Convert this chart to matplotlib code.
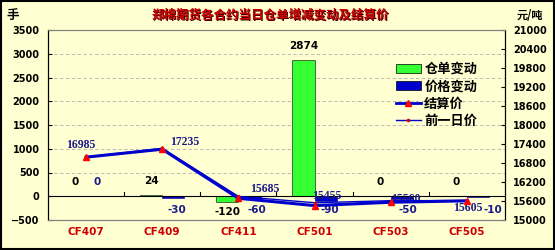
import numpy as np
import matplotlib
matplotlib.use("Agg")
import matplotlib.pyplot as plt
from matplotlib.patches import Rectangle, Patch
from matplotlib.lines import Line2D

plt.rcParams['font.family'] = ['Noto Sans CJK SC', 'DejaVu Sans']

# 数据
contracts = ['CF407', 'CF409', 'CF411', 'CF501', 'CF503', 'CF505']
warehouse_chg = [0, 24, -120, 2874, 0, 0]        # 仓单变动 (手)
price_chg = [0, -30, -60, -90, -50, -10]         # 价格变动
settle = [16985, 17235, 15685, 15455, 15560, 15605]  # 结算价
prev_price = [s - c for s, c in zip(settle, price_chg)]  # 前一日价

left_ticks = [-500, 0, 500, 1000, 1500, 2000, 2500, 3000, 3500]
right_ticks = [15000, 15600, 16200, 16800, 17400, 18000, 18600,
               19200, 19800, 20400, 21000]

# 标签偏移 (points)
settle_off = [(-4, 9), (16, 5), (19, 7), (9, 7), (11, 2), (1, -5)]
price_lbl_dx = [0, 0.05, 0.1, 0.05, 0.08, 0.2]

BG = '#FFFFD2'
GREEN = '#33FF33'
BLUE = '#0000CC'
NAVY = '#1A1A8C'
RED = '#CC0000'

fig = plt.figure(figsize=(5.55, 2.5), dpi=100)
fig.patch.set_facecolor(BG)
ax = fig.add_axes([48 / 555, 30 / 250, 457 / 555, 190 / 250])
ax.set_facecolor(BG)
ax2 = ax.twinx()

x = np.arange(len(contracts))
w = 0.29
ax.bar(x - w / 2, warehouse_chg, w, color=GREEN, edgecolor='black', linewidth=0.4, zorder=3)
ax.bar(x + w / 2, price_chg, w, color=BLUE, edgecolor='#000080', linewidth=0.4, zorder=3)
ax.axhline(0, color='black', linewidth=0.8, zorder=4)

ax.set_xlim(-0.5, len(contracts) - 0.5)
ax.set_ylim(-500, 3500)
ax.set_yticks(left_ticks)
ax.grid(axis='y', color='#B0B0B0', linestyle=(0, (4, 3)), linewidth=0.6)
ax.set_axisbelow(True)
ax.set_xticks([])
for b in np.arange(0.5, len(contracts) - 0.5):
    ax.plot([b, b], [0, 90], color='black', linewidth=0.8, zorder=4)

for xi, v in zip(x, warehouse_chg):
    off = 10 if v >= 0 else -11
    ax.annotate(str(v), (xi - w / 2, v if v >= 0 else 0), xytext=(0, off),
                textcoords='offset points', ha='center', va='center',
                fontsize=7.5, fontweight='bold', color='black', family='DejaVu Sans')
for xi, v, dx in zip(x, price_chg, price_lbl_dx):
    off = 10 if v >= 0 else -10
    ax.annotate(str(v), (xi + w / 2 + dx, v if v >= 0 else 0), xytext=(0, off),
                textcoords='offset points', ha='center', va='center',
                fontsize=7.5, fontweight='bold', color=NAVY, family='DejaVu Sans')

ax2.plot(x, prev_price, color=BLUE, linewidth=1.0, marker='.', markersize=3,
         markerfacecolor=RED, markeredgecolor=RED, zorder=5)
ax2.plot(x, settle, color=BLUE, linewidth=2.2, marker='^', markersize=5,
         markerfacecolor='red', markeredgecolor='red', zorder=6)
for xi, v, off in zip(x, settle, settle_off):
    ax2.annotate(str(v), (xi, v), xytext=off, textcoords='offset points',
                 ha='center', va='center', fontsize=8.5, color=NAVY,
                 fontweight='bold', family='Liberation Serif')
ax2.set_ylim(15000, 21000)
ax2.set_yticks(right_ticks)

for a in (ax, ax2):
    a.tick_params(axis='y', direction='in', length=3, labelsize=7, pad=6)
    for s in ('top', 'bottom'):
        a.spines[s].set_color('#808080')
    a.spines['left'].set_color('black')
    a.spines['right'].set_color('black')
for lab in ax.get_yticklabels() + ax2.get_yticklabels():
    lab.set_fontweight('bold')
    lab.set_family('DejaVu Sans')

for xi, name in zip(x, contracts):
    ax.text(xi, -750, name, ha='center', va='center', fontsize=7.5,
            fontweight='bold', color=RED, family='DejaVu Sans')

title = '郑棉期货各合约当日仓单增减变动及结算价'
fig.text(0.487 + 0.002, 0.938 - 0.004, title, ha='center', va='center',
         fontsize=9, fontweight='bold', color='#400000')
fig.text(0.487, 0.938, title, ha='center', va='center',
         fontsize=9, fontweight='bold', color=RED)
fig.text(13 / 555, 0.938, '手', ha='center', va='center', fontsize=9, fontweight='bold')
fig.text(530 / 555, 0.938, '元/吨', ha='center', va='center', fontsize=8, fontweight='bold')

handles = [
    Patch(facecolor=GREEN, edgecolor='black', linewidth=0.5),
    Patch(facecolor=BLUE, edgecolor='black', linewidth=0.5),
    Line2D([], [], color=BLUE, linewidth=2, marker='^', markersize=5,
           markerfacecolor='red', markeredgecolor='red'),
    Line2D([], [], color=BLUE, linewidth=1, marker='.', markersize=3,
           markerfacecolor=RED, markeredgecolor=RED),
]
leg = fig.legend(handles, ['仓单变动', '价格变动', '结算价', '前一日价'],
                 loc='upper left', bbox_to_anchor=(384 / 555, 200 / 250),
                 frameon=False, fontsize=9.5, handlelength=1.9,
                 labelspacing=0.25, handletextpad=0.25)
for t in leg.get_texts():
    t.set_fontweight('bold')

fig.patches.append(Rectangle((0.002, 0.004), 0.996, 0.992, transform=fig.transFigure,
                             fill=False, edgecolor='black', linewidth=1.5))

fig.savefig('out.png', dpi=100, facecolor=BG)
